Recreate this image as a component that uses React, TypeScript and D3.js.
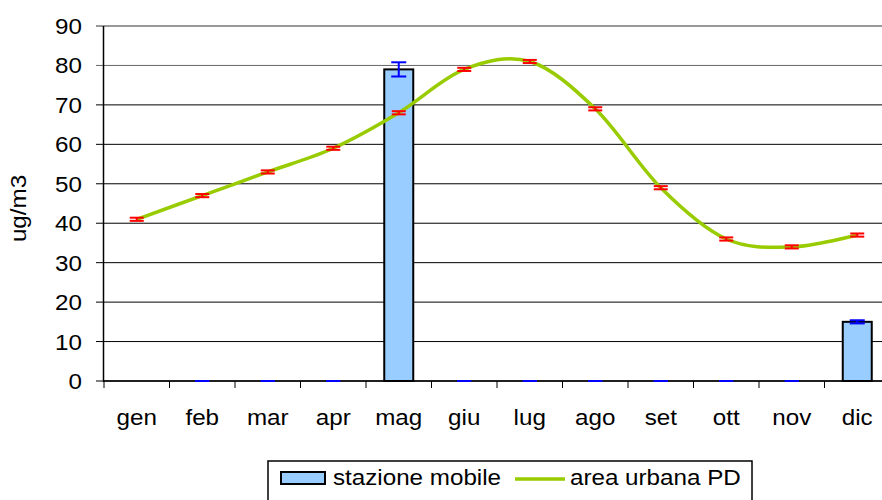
import React from 'react';
import * as d3 from 'd3';

const months = ['gen', 'feb', 'mar', 'apr', 'mag', 'giu', 'lug', 'ago', 'set', 'ott', 'nov', 'dic'];
// stazione mobile (null = no data)
const stationValues: (number | null)[] = [null, 0, 0, 0, 79, 0, 0, 0, 0, 0, 0, 15];
const stationErrors = [0, 0, 0, 0, 1.8, 0, 0, 0, 0, 0, 0, 0.4];
// area urbana PD
const urbanValues = [41, 47, 53, 59, 68, 79, 81, 69, 49, 36, 34, 37];
const urbanErrors = [0.4, 0.4, 0.4, 0.4, 0.4, 0.4, 0.4, 0.4, 0.4, 0.4, 0.4, 0.4];
const yTicks = [0, 10, 20, 30, 40, 50, 60, 70, 80, 90];

const FONT = '"Liberation Sans", Arial, sans-serif';
const W = 882;
const H = 500;

// text drawn slightly wider than normal, like the original rendering
const Txt = ({ x, y, anchor = 'start', rotate = 0, children }:
  { x: number; y: number; anchor?: string; rotate?: number; children: React.ReactNode }) => (
  <text transform={`translate(${x},${y}) rotate(${rotate}) scale(1.1,1)`} textAnchor={anchor}
    fontFamily={FONT} fontSize={22} fill="#000">{children}</text>
);

const App = () => {
  const x = d3.scaleBand<string>().domain(months).range([104, 890]).padding(0);
  const y = d3.scaleLinear().domain([0, 90]).range([381, 26]);
  const cx = (m: string) => (x(m) ?? 0) + x.bandwidth() / 2;
  const barW = 29;

  const line = d3.line<number>()
    .x((_, i) => cx(months[i]))
    .y(d => y(d))
    .curve(d3.curveCatmullRom.alpha(0));

  const errBar = (xc: number, v: number, e: number, color: string, capW: number, key: string) => (
    <g key={key} stroke={color} strokeWidth={2}>
      <line x1={xc} x2={xc} y1={y(v + e)} y2={y(v - e)} />
      <line x1={xc - capW / 2} x2={xc + capW / 2} y1={y(v + e)} y2={y(v + e)} />
      <line x1={xc - capW / 2} x2={xc + capW / 2} y1={y(v - e)} y2={y(v - e)} />
    </g>
  );

  return (
    <div style={{ position: 'absolute', left: 0, top: 0 }}>
      <svg width={W} height={H} style={{ display: 'block', background: '#fff' }}>
        {/* gridlines */}
        {yTicks.map(t => (
          <line key={t} x1={96} x2={W} y1={y(t)} y2={y(t)}
            stroke={t === 90 ? '#999' : t === 80 ? '#666' : '#000'}
            strokeWidth={t === 90 ? 2 : 1} />
        ))}
        {/* y axis */}
        <line x1={103.5} x2={103.5} y1={y(90)} y2={y(0) + 1} stroke="#000" strokeWidth={1.5} />
        {yTicks.map(t => (
          <Txt key={t} x={82} y={y(t) + 8} anchor="end">{t}</Txt>
        ))}
        <Txt x={26} y={(y(0) + y(90)) / 2 + 5} anchor="middle" rotate={-90}>ug/m3</Txt>

        {/* bars */}
        {stationValues.map((v, i) => v != null && v > 0 ? (
          <rect key={months[i]} x={cx(months[i]) - barW / 2} y={y(v)} width={barW} height={y(0) - y(v)}
            fill="#99CCFF" stroke="#000" strokeWidth={2} />
        ) : null)}

        {/* x axis */}
        <line x1={103} x2={W} y1={y(0)} y2={y(0)} stroke="#000" strokeWidth={1.5} />
        {months.map(m => (
          <line key={m} x1={x(m)} x2={x(m)} y1={y(0)} y2={y(0) + 7} stroke="#000" strokeWidth={1} />
        ))}
        {months.map(m => (
          <Txt key={m} x={cx(m)} y={425} anchor="middle">{m}</Txt>
        ))}

        {/* station error bars */}
        {stationValues.map((v, i) => v != null
          ? errBar(cx(months[i]), v, stationErrors[i], '#0000FF', v > 0 ? 15 : 14, 'se' + i)
          : null)}

        {/* urban line */}
        <path d={line(urbanValues) ?? ''} fill="none" stroke="#99CC00" strokeWidth={3.5} />
        {urbanValues.map((v, i) => errBar(cx(months[i]), v, urbanErrors[i], '#FF0000', 14, 'ue' + i))}

        {/* legend */}
        <rect x={268} y={461} width={484} height={50} fill="#fff" stroke="#000" strokeWidth={1.5} />
        <rect x={281} y={472} width={44} height={12} fill="#99CCFF" stroke="#000" strokeWidth={2} />
        <Txt x={333} y={485}>stazione mobile</Txt>
        <line x1={515} x2={565} y1={479} y2={479} stroke="#99CC00" strokeWidth={3.5} />
        <Txt x={570} y={485}>area urbana PD</Txt>
      </svg>
    </div>
  );
};

export default App;
